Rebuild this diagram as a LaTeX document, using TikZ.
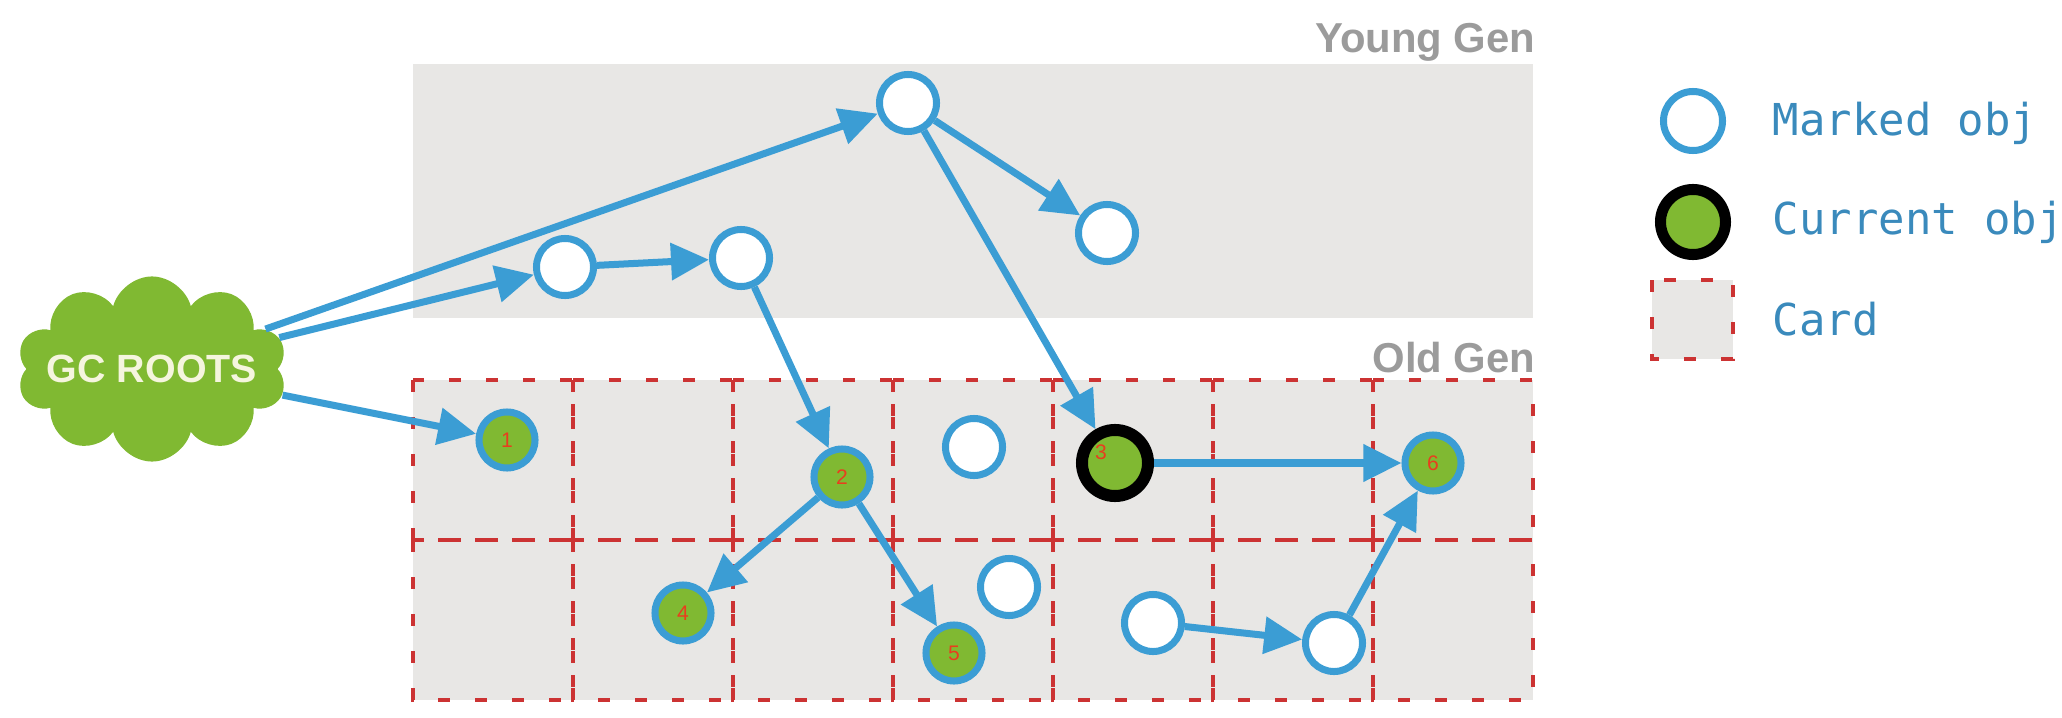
\documentclass[tikz,border=0pt]{standalone}
\usepackage{fontspec}
\setmainfont{Liberation Sans}
\setmonofont{DejaVu Sans Mono}
\usetikzlibrary{shapes.symbols,arrows.meta}

\definecolor{objblue}{RGB}{59,157,212}
\definecolor{objgreen}{RGB}{128,185,50}
\definecolor{heapgray}{RGB}{232,231,229}
\definecolor{cardred}{RGB}{204,51,51}
\definecolor{gentext}{RGB}{155,155,155}
\definecolor{legtext}{RGB}{58,138,188}
\definecolor{rootstext}{RGB}{245,245,222}
\definecolor{numred}{RGB}{232,62,30}

\tikzset{
  marked/.style={circle, draw=objblue, line width=0.07cm, fill=white,
    minimum size=0.57cm, inner sep=0pt},
  done/.style={marked, fill=objgreen, minimum size=0.56cm,
    text=numred, font=\fontsize{6}{6}\selectfont},
  current/.style={circle, draw=black, line width=0.12cm, fill=objgreen,
    minimum size=0.66cm, inner sep=0pt},
  card/.style={draw=cardred, line width=0.04cm, dash pattern=on 0.12cm off 0.25cm},
  ref/.style={draw=objblue, line width=0.07cm, -{Triangle[length=0.38cm,width=0.36cm]}},
  genlabel/.style={text=gentext, font=\fontsize{11.9}{12}\selectfont\bfseries,
    anchor=base east, inner sep=0pt},
  legend/.style={text=legtext, font=\ttfamily\fontsize{12.5}{13}\selectfont,
    anchor=base west, inner sep=0pt},
}

\begin{document}
\begin{tikzpicture}[x=0.01cm, y=-0.01cm]
  \useasboundingbox (0,0) rectangle (2062,718);

  % Heap areas
  \fill[heapgray] (413,64) rectangle (1533,318);      % young gen
  \fill[heapgray] (413,380) rectangle (1533,700);     % old gen
  \foreach \col in {0,...,6}
    \foreach \row in {0,1}
      \draw[card] (413+\col*160,380+\row*160) rectangle ++(160,160);
  \node[genlabel] (younglabel) at (1536,52) {Young Gen};
  \node[genlabel] (oldlabel) at (1536,372) {Old Gen};

  % GC roots
  \node[cloud, cloud puffs=10, aspect=1.5, fill=objgreen, inner sep=0pt,
    minimum width=2.7cm, minimum height=1.85cm, text=rootstext,
    font=\fontsize{11.2}{12}\selectfont\bfseries] (roots) at (152,369) {\makebox[0pt]{GC ROOTS}};

  % Young gen objects
  \node[marked] (ya) at (908,103) {};
  \node[marked] (yb) at (1107,233) {};
  \node[marked] (yc) at (565,267) {};
  \node[marked] (yd) at (741,258) {};

  % Old gen objects
  \node[done] (o1) at (507,440) {1};
  \node[done] (o2) at (842,477) {2};
  \node[current] (o3) at (1115,463) {};
  \node[text=numred, font=\fontsize{6}{6}\selectfont, inner sep=0pt] (lab3) at (1101,452) {3};
  \node[done] (o4) at (683,613) {4};
  \node[done] (o5) at (954,653) {5};
  \node[done] (o6) at (1433,463) {6};
  \node[marked] (oe) at (974,447) {};
  \node[marked] (of) at (1009,587) {};
  \node[marked] (og) at (1153,623) {};
  \node[marked] (oh) at (1334,643) {};

  % References
  \draw[ref] (roots) -- (ya);
  \draw[ref] (roots) -- (yc);
  \draw[ref] (roots) -- (o1);
  \draw[ref] (yc) -- (yd);
  \draw[ref] (ya) -- (yb);
  \draw[ref] (ya) -- (o3);
  \draw[ref] (yd) -- (o2);
  \draw[ref] (o2) -- (o4);
  \draw[ref] (o2) -- (o5);
  \draw[ref] (o3) -- (o6);
  \draw[ref] (og) -- (oh);
  \draw[ref] (oh) -- (o6);

  % Legend
  \node[marked, minimum size=0.59cm] (lgmarked) at (1693,121) {};
  \node[current, minimum size=0.65cm, line width=0.11cm] (lgcurrent) at (1693,222) {};
  \draw[card, fill=heapgray] (1652,280) rectangle (1733,359);
  \node[legend] (lgmarkedtext) at (1772,135) {Marked obj};
  \node[legend] (lgcurrenttext) at (1772,235) {Current obj};
  \node[legend] (lgcardtext) at (1772,335) {Card};
\end{tikzpicture}
\end{document}
